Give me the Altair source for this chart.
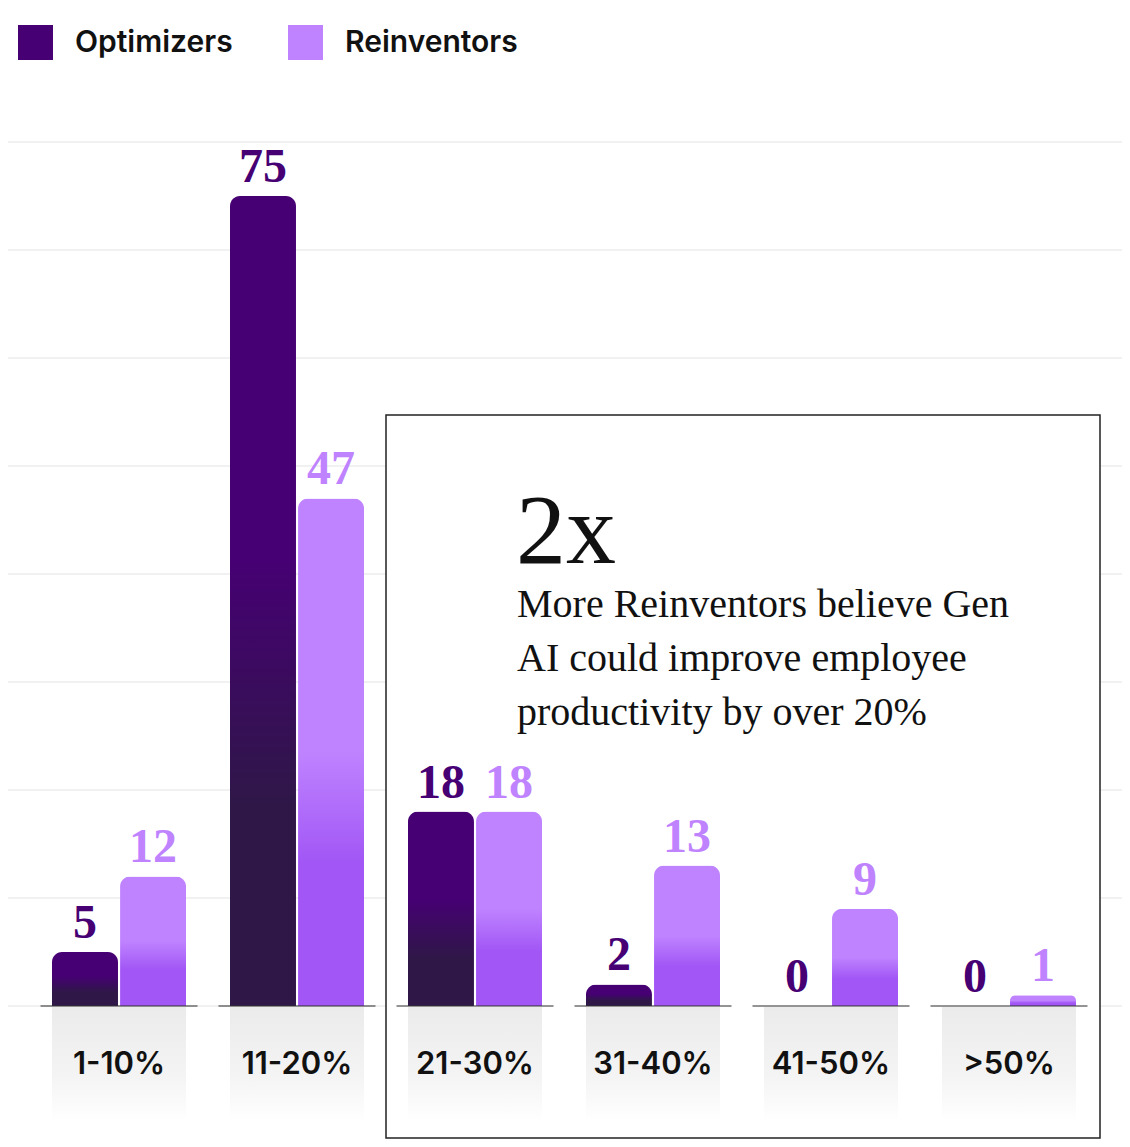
import altair as alt
import pandas as pd

# ---- data ----
categories = ["1-10%", "11-20%", "21-30%", "31-40%", "41-50%", ">50%"]
series = ["Optimizers", "Reinventors"]
optimizers = [5, 75, 18, 2, 0, 0]
reinventors = [12, 47, 18, 13, 9, 1]
grid_values = [0, 10, 20, 30, 40, 50, 60, 70, 80]
headline = "2x"
body_lines = [
    "More Reinventors believe Gen",
    "AI could improve employee",
    "productivity by over 20%",
]

OPT = "#460073"
REIN = "#bf83ff"

df = pd.DataFrame({
    "category": categories * 2,
    "series": ["Optimizers"] * len(categories) + ["Reinventors"] * len(categories),
    "value": optimizers + reinventors,
})
cat_df = pd.DataFrame({"category": categories})
grid_df = pd.DataFrame({"g": grid_values})
one = pd.DataFrame({"k": [0]})

W, H = 1114, 1131

x = alt.X("category:N", sort=categories,
          scale=alt.Scale(domain=categories, range=[22, 1090],
                          paddingInner=0.247, paddingOuter=0.1236),
          axis=None)
xoff = alt.XOffset("series:N",
                   scale=alt.Scale(domain=series, paddingInner=0.03, paddingOuter=0))
yscale = alt.Scale(domain=[0, 80], range=[998, 134], nice=False, zero=True)
y = alt.Y("value:Q", scale=yscale, axis=None)

opt_grad = alt.LinearGradient(
    gradient="linear", x1=0, x2=0, y1=0, y2=1,
    stops=[alt.GradientStop(color=OPT, offset=0),
           alt.GradientStop(color=OPT, offset=0.45),
           alt.GradientStop(color="#2f1748", offset=0.75),
           alt.GradientStop(color="#2f1748", offset=1)])
rein_grad = alt.LinearGradient(
    gradient="linear", x1=0, x2=0, y1=0, y2=1,
    stops=[alt.GradientStop(color=REIN, offset=0),
           alt.GradientStop(color=REIN, offset=0.5),
           alt.GradientStop(color="#a156f5", offset=0.72),
           alt.GradientStop(color="#a156f5", offset=1)])
gray_grad = alt.LinearGradient(
    gradient="linear", x1=0, x2=0, y1=0, y2=1,
    stops=[alt.GradientStop(color="#ebebeb", offset=0),
           alt.GradientStop(color="#f4f4f4", offset=0.6),
           alt.GradientStop(color="#ffffff", offset=1)])

grid = alt.Chart(grid_df).mark_rule(color="#e3e3e3", strokeWidth=1.2).encode(
    y=alt.Y("g:Q", scale=yscale, axis=None), x=alt.value(0), x2=alt.value(W))

box = alt.Chart(one).mark_rect(fill="white", stroke="#222222", strokeWidth=1.5).encode(
    x=alt.value(378), x2=alt.value(1092), y=alt.value(407), y2=alt.value(H - 1))

cat_bg = alt.Chart(cat_df).mark_rect(fill=gray_grad).encode(
    x=x, y=alt.value(999), y2=alt.value(1114))

bars_opt = alt.Chart(df).transform_filter(alt.datum.series == "Optimizers").mark_bar(
    fill=opt_grad, cornerRadiusEnd=10).encode(x=x, xOffset=xoff, y=y)
bars_rein = alt.Chart(df).transform_filter(alt.datum.series == "Reinventors").mark_bar(
    fill=rein_grad, cornerRadiusEnd=10).encode(x=x, xOffset=xoff, y=y)

base_ticks = alt.Chart(cat_df).mark_tick(
    orient="horizontal", size=157, thickness=1.5, color="#333333").encode(
    x=x, y=alt.Y(datum=0, scale=yscale))

labels = alt.Chart(df).mark_text(
    dy=-14, font="Liberation Serif", fontSize=48, fontWeight="bold",
    baseline="alphabetic", align="center").encode(
    x=x, xOffset=xoff, y=alt.Y("value:Q", scale=yscale),
    text=alt.Text("value:Q"),
    color=alt.Color("series:N", scale=alt.Scale(domain=series, range=[OPT, REIN]),
                    legend=alt.Legend(title=None, orient="none", legendX=10, legendY=17,
                                      direction="horizontal", symbolType="square",
                                      symbolSize=1225, symbolStrokeWidth=0,
                                      symbolOpacity=1, labelFont="Inter",
                                      labelFontSize=30, labelFontWeight=600,
                                      labelColor="#111111", labelOffset=22,
                                      labelLimit=400, columnPadding=55, padding=0)))

cat_text = alt.Chart(cat_df).mark_text(
    font="Inter", fontSize=31, fontWeight=600, color="#111111",
    baseline="middle", align="center").encode(
    x=x, y=alt.value(1057), text="category:N")

big = alt.Chart(one).mark_text(
    text=headline, font="Liberation Serif", fontSize=100, color="#111111",
    align="left", baseline="alphabetic").encode(x=alt.value(508), y=alt.value(555))

body = alt.Chart(one).mark_text(
    text=body_lines, font="Liberation Serif", fontSize=40, lineHeight=54,
    color="#111111", align="left", baseline="alphabetic").encode(
    x=alt.value(509), y=alt.value(609))

chart = alt.layer(grid, box, cat_bg, bars_opt, bars_rein, base_ticks, labels, cat_text,
                  big, body).properties(
    width=W, height=H, padding=0,
    autosize=alt.AutoSizeParams(type="none"),
).configure_view(stroke=None)

chart.save("out.html", embed_options={"renderer": "svg", "actions": False})
